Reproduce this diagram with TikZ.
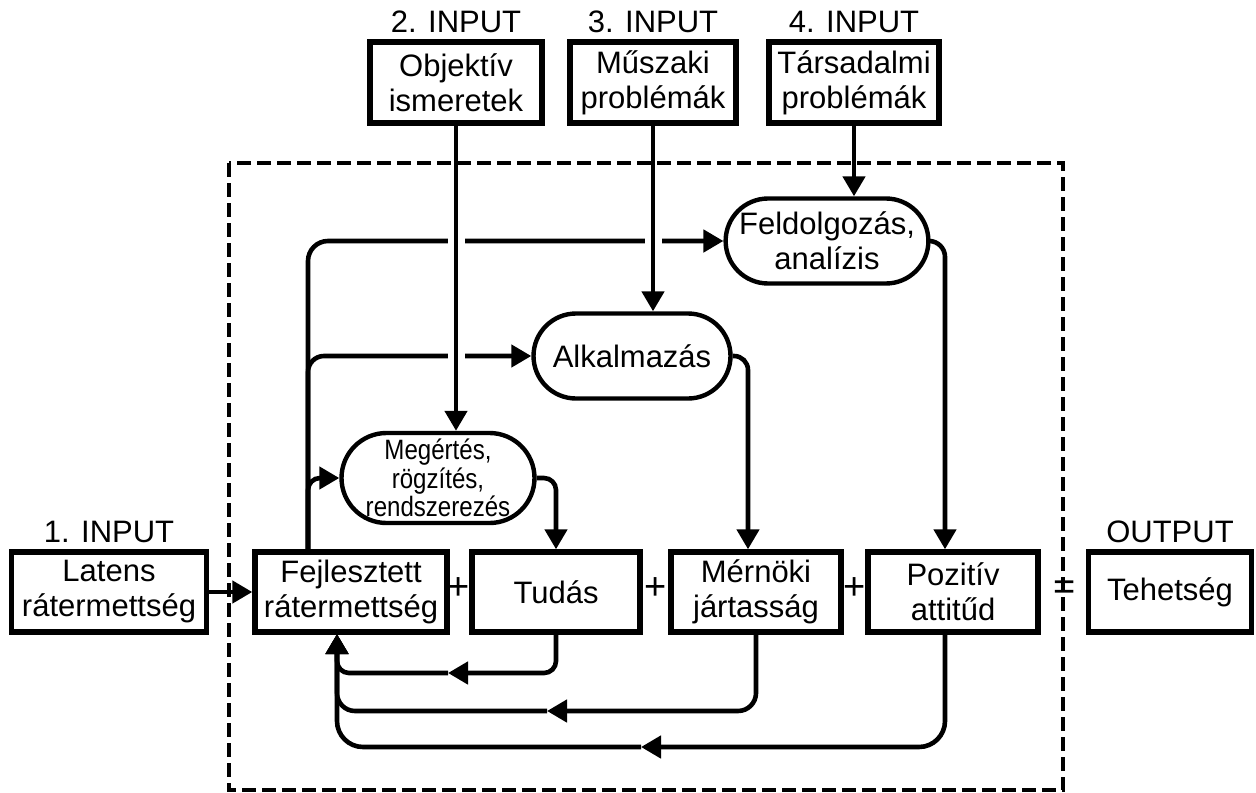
\documentclass[tikz,border=0pt]{standalone}
\usepackage{fontspec}
\setmainfont{Liberation Sans}
\newfontfamily\szukfont{Liberation Sans}[FakeStretch=0.86]
\usetikzlibrary{arrows.meta,positioning,shapes.misc}

\begin{document}
\begin{tikzpicture}[x=0.5pt, y=-0.5pt, every node/.style={font=\fontsize{15.5}{17.5}\selectfont}, box/.style={draw, line width=2.7pt, align=center, minimum height=40pt, inner sep=1pt}, oval/.style={draw, rounded rectangle, line width=2.2pt, align=center, minimum width=100.5pt, minimum height=42.5pt, inner sep=1pt}, tag/.style={inner sep=1pt}, sign/.style={font=\fontsize{19}{19}\selectfont, inner sep=0pt}, arrow/.style={-{Triangle[length=10pt, width=11pt]}, line width=2.3pt}, cross/.style={preaction={draw=white, -, line width=8.5pt, shorten <=10pt, shorten >=14pt}}]
\useasboundingbox (0,0) rectangle (1256,792);
% bottom row
\node[box, minimum width=97.5pt] (latens) at (109,592) {Latens\\rátermettség};
\node[box, minimum width=96pt] (fejl) at (351,592) {Fejlesztett\\rátermettség};
\node[box, minimum width=84pt] (tudas) at (556,592) {Tudás};
\node[box, minimum width=85pt] (mernoki) at (756,592) {Mérnöki\\jártasság};
\node[box, minimum width=85pt] (pozitiv) at (953,592) {Pozitív\\attitűd};
\node[box, minimum width=81.5pt] (tehetseg) at (1170,592) {Tehetség};
\node[sign] (plus1) at (459,589) {+};
\node[sign] (plus2) at (656,589) {+};
\node[sign] (plus3) at (855,589) {+};
\node[sign] (egyenlo) at (1065,590) {=};
% inputs
\node[box, minimum width=86pt, minimum height=40.5pt] (objektiv) at (456,82.5) {Objektív\\ismeretek};
\node[box, minimum width=83pt, minimum height=40.5pt] (muszaki) at (653,82.5) {Műszaki\\problémák};
\node[box, minimum width=85pt, minimum height=40.5pt] (tarsadalmi) at (854,82.5) {Társadalmi\\problémák};
\node[tag, above=2pt of latens] (in1) {1. INPUT};
\node[tag, above=2pt of objektiv] (in2) {2. INPUT};
\node[tag, above=2pt of muszaki] (in3) {3. INPUT};
\node[tag, above=2pt of tarsadalmi] (in4) {4. INPUT};
\node[tag, above=2pt of tehetseg] (out) {OUTPUT};
% processing
\node[oval] (feld) at (827,241) {Feldolgozás,\\analízis};
\node[oval] (alk) at (632,356) {Alkalmazás};
\node[oval, minimum width=98.5pt, minimum height=45pt, font=\szukfont\fontsize{14}{12.5}\selectfont] (megert) at (438,478) {Megértés,\\rögzítés,\\rendszerezés};
% helper points
\coordinate (tk) at (308,552);
\coordinate (fin) at (337,634);
\coordinate (m1) at (448,673);
\coordinate (m2) at (547,711);
\coordinate (m3) at (641,747);
% forward connectors
\draw[arrow] (latens) -- (fejl);
\draw[arrow, rounded corners=10pt] (tk) |- (feld.west);
\draw[arrow, rounded corners=8pt] (tk) |- (alk.west);
\draw[arrow, rounded corners=6pt] (tk) |- (megert.west);
\draw[arrow, cross] (objektiv.south) -- (objektiv.south |- megert.north);
\draw[arrow, cross] (muszaki.south) -- (muszaki.south |- alk.north);
\draw[arrow] (tarsadalmi.south) -- (tarsadalmi.south |- feld.north);
\draw[arrow, rounded corners=6pt] (megert.east) -| (tudas.north);
\draw[arrow, rounded corners=7pt] (alk.east) -| ([xshift=-4pt]mernoki.north);
\draw[arrow, rounded corners=8pt] (feld.east) -| ([xshift=-4pt]pozitiv.north);
% feedback
\draw[arrow, rounded corners=6pt] (tudas.south) |- (m1);
\draw[arrow, rounded corners=6pt] (m1) -| (fin);
\draw[arrow, rounded corners=9pt] (mernoki.south) |- (m2);
\draw[arrow, rounded corners=9pt] (m2) -| (fin);
\draw[arrow, rounded corners=13pt] ([xshift=-4pt]pozitiv.south) |- (m3);
\draw[arrow, rounded corners=13pt] (m3) -| (fin);
% frame
\draw[line width=2pt, dash pattern=on 7pt off 3pt] (229,163) rectangle (1063,790);
\end{tikzpicture}
\end{document}
